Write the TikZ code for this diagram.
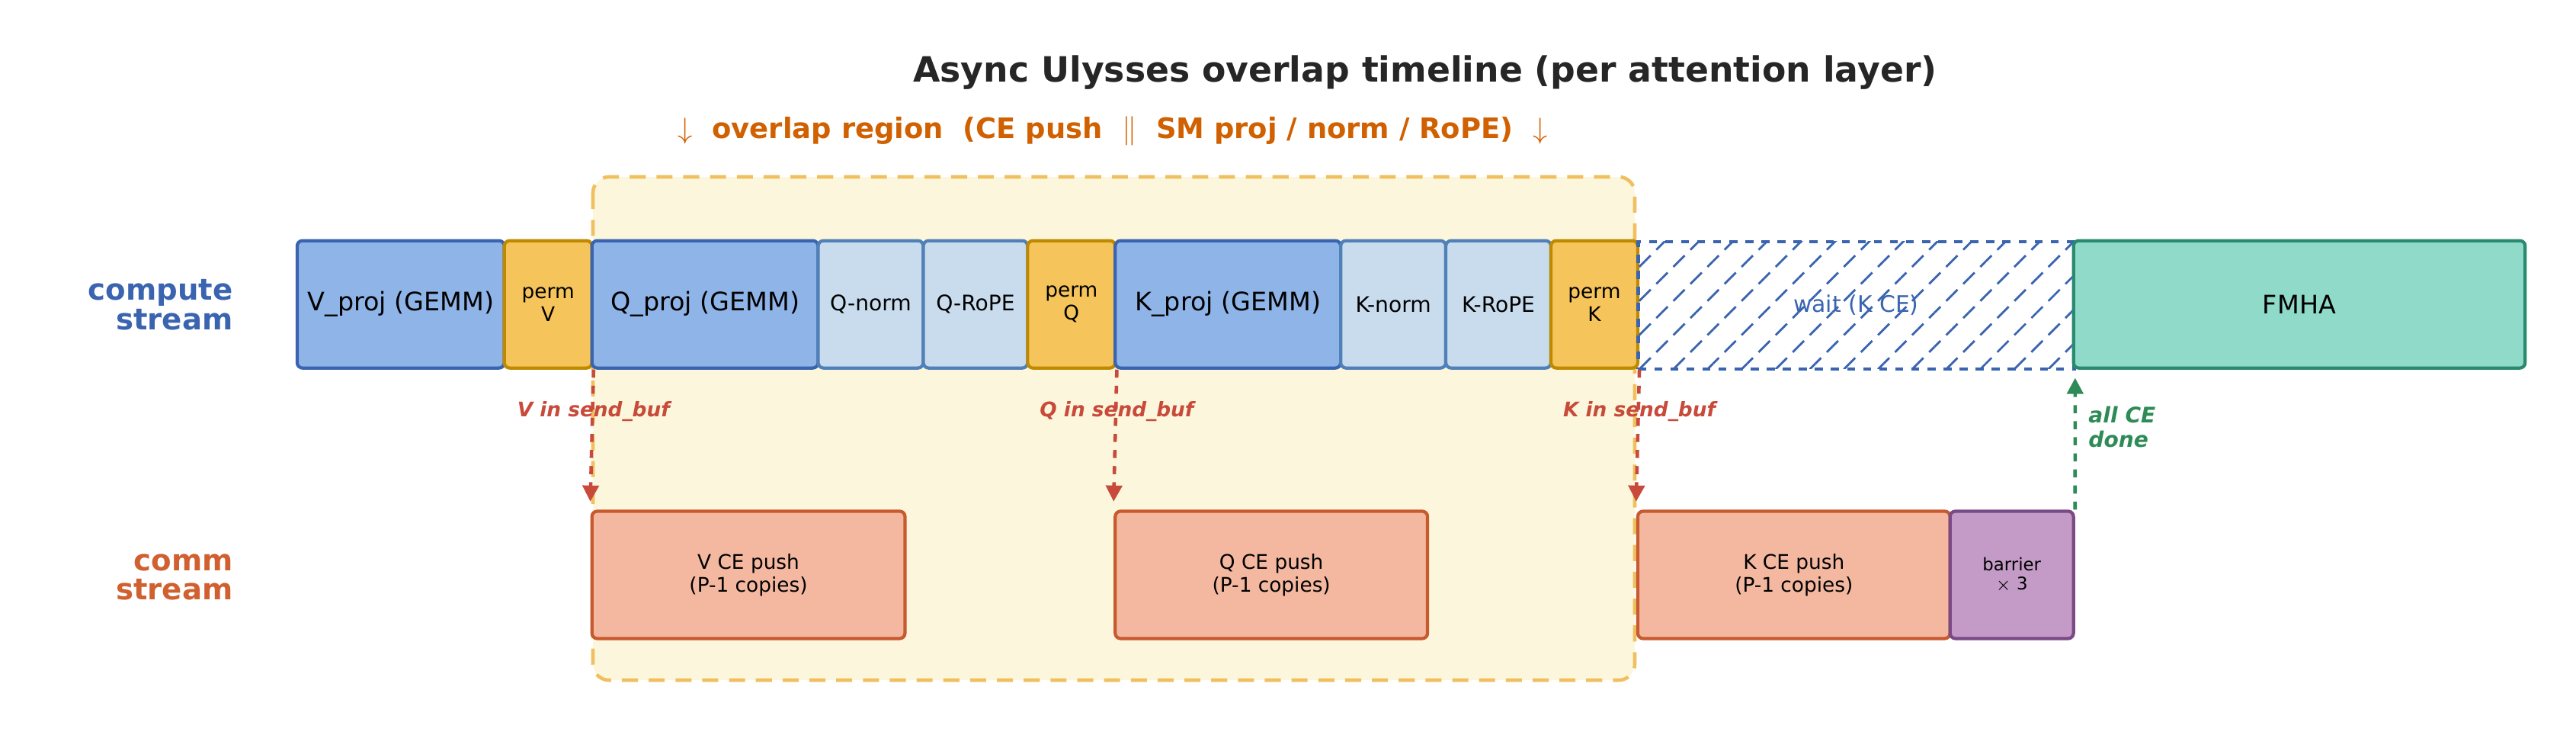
\documentclass[tikz,border=0pt]{standalone}
\usepackage{fontspec}
\setmainfont{DejaVu Sans}
\usetikzlibrary{arrows.meta,patterns.meta}
\definecolor{projblue}{HTML}{8FB4E8}
\definecolor{projedge}{HTML}{3A64B0}
\definecolor{permyel}{HTML}{F5C45A}
\definecolor{permedge}{HTML}{C08A00}
\definecolor{normblue}{HTML}{C9DCEE}
\definecolor{normedge}{HTML}{5080B8}
\definecolor{fmha}{HTML}{8FDAC8}
\definecolor{fmhaedge}{HTML}{2A8A70}
\definecolor{cepush}{HTML}{F4B8A0}
\definecolor{ceedge}{HTML}{C85A30}
\definecolor{barr}{HTML}{C39BC6}
\definecolor{barredge}{HTML}{7A4A85}
\definecolor{ovfill}{HTML}{FCF7DC}
\definecolor{ovedge}{HTML}{F0C060}
\definecolor{ovtext}{HTML}{D06000}
\definecolor{sendred}{HTML}{C84A3A}
\definecolor{donegreen}{HTML}{2E8B57}
\definecolor{compblue}{HTML}{3A64B0}
\definecolor{commorange}{HTML}{D06030}
\tikzset{
  blk/.style={draw, line width=1.2pt, rounded corners=2pt, anchor=south west,
    inner sep=0pt, align=center, font=\fontsize{9}{10}\selectfont},
  proj/.style={blk, fill=projblue, draw=projedge},
  perm/.style={blk, fill=permyel, draw=permedge, font=\fontsize{7.5}{8.5}\selectfont},
  norm/.style={blk, fill=normblue, draw=normedge, font=\fontsize{8}{9}\selectfont},
  push/.style={blk, fill=cepush, draw=ceedge, font=\fontsize{7.5}{8.5}\selectfont},
  lane/.style={font=\bfseries\fontsize{11}{11}\selectfont, align=right, anchor=east},
  send/.style={draw=sendred, line width=1.3pt, dashed, -{Triangle[length=6pt,width=6pt]}},
  sendlbl/.style={text=sendred, font=\bfseries\itshape\fontsize{7.5}{8}\selectfont}
}
% x1 x2 are in px, y in px from top
\newcommand{\blkc}[5]{%
  \node[#4, minimum width={(#3-#2)*0.01cm}, minimum height=1.67cm]
    (#1) at ({#2*0.01},{-#5*0.01}) {};}
\begin{document}
\begin{tikzpicture}
\useasboundingbox (0,0) rectangle (33.8,-9.8);
\node[font=\bfseries\fontsize{13}{13}\selectfont, text=black!85] (title) at (18.7,-0.95)
  {Async Ulysses overlap timeline (per attention layer)};
\node[font=\bfseries\fontsize{10.5}{11}\selectfont, text=ovtext] (ovlbl) at (14.6,-1.72)
  {$\downarrow$\ \ overlap region\ \ (CE push\ \ $\|$\ \ SM proj / norm / RoPE)\ \ $\downarrow$};
% overlap region
\draw[draw=ovedge, fill=ovfill, line width=1.3pt, dash pattern=on 6pt off 4pt, rounded corners=6pt]
  (7.78,-2.32) rectangle (21.45,-8.92);

\node[lane, text=compblue] (compute) at (3.18,-4.0) {compute\\stream};
\node[lane, text=commorange] (comm) at (3.18,-7.57) {comm\\stream};

% compute stream
\blkc{vproj}{388}{660}{proj}{485}
\blkc{permv}{660}{775}{perm}{485}
\blkc{qproj}{775}{1072}{proj}{485}
\blkc{qnorm}{1072}{1210}{norm}{485}
\blkc{qrope}{1210}{1347}{norm}{485}
\blkc{permq}{1347}{1462}{perm}{485}
\blkc{kproj}{1462}{1758}{proj}{485}
\blkc{knorm}{1758}{1896}{norm}{485}
\blkc{krope}{1896}{2034}{norm}{485}
\blkc{permk}{2034}{2148}{perm}{485}
\node[blk, draw=compblue, dashed, pattern={Lines[angle=45,distance=9pt,line width=0.8pt]},
  pattern color=compblue, rounded corners=0pt, minimum width=5.72cm, minimum height=1.67cm]
  (wait) at (21.48,-4.85) {};
\blkc{fmha}{2720}{3313}{blk, fill=fmha, draw=fmhaedge}{485}
\foreach \n/\t in {vproj/V\_proj (GEMM), qproj/Q\_proj (GEMM), kproj/K\_proj (GEMM), fmha/FMHA}
  \node[font=\fontsize{9.5}{10}\selectfont] at (\n.center) {\t};
\foreach \n/\t in {qnorm/Q-norm, qrope/Q-RoPE, knorm/K-norm, krope/K-RoPE}
  \node[font=\fontsize{8}{9}\selectfont] at (\n.center) {\t};
\foreach \n/\t in {permv/V, permq/Q, permk/K}
  \node[font=\fontsize{7.5}{8.5}\selectfont, align=center] at (\n.center) {perm\\\t};
\node[font=\fontsize{8.5}{9}\selectfont, text=compblue] at (wait.center) {wait (K CE)};

% comm stream
\blkc{vpush}{775}{1186}{push}{840}
\blkc{qpush}{1462}{1872}{push}{840}
\blkc{kpush}{2148}{2558}{push}{840}
\blkc{barrier}{2558}{2720}{blk, fill=barr, draw=barredge}{840}
\foreach \n/\t in {vpush/V, qpush/Q, kpush/K}
  \node[font=\fontsize{7.5}{8.5}\selectfont, align=center] at (\n.center) {\t\ CE push\\(P-1 copies)};
\node[font=\fontsize{6.5}{7}\selectfont, align=center] at (barrier.center) {barrier\\$\times$ 3};

% send arrows
\foreach \s/\d/\l in {permv/vpush/V, permq/qpush/Q, permk/kpush/K} {
  \draw[send] (\s.south east) -- ([yshift=3pt]\d.north west);
  \node[sendlbl] at ([yshift=-0.55cm]\s.south east) {\l\ in send\_buf};
}
\draw[draw=donegreen, line width=1.3pt, dashed, -{Triangle[length=6pt,width=6pt]}]
  (barrier.north east) -- ([yshift=-3pt]wait.south east);
\node[text=donegreen, font=\bfseries\itshape\fontsize{8}{9}\selectfont, align=left, anchor=west]
  (alldone) at (27.28,-5.6) {all CE\\done};
\end{tikzpicture}
\end{document}
